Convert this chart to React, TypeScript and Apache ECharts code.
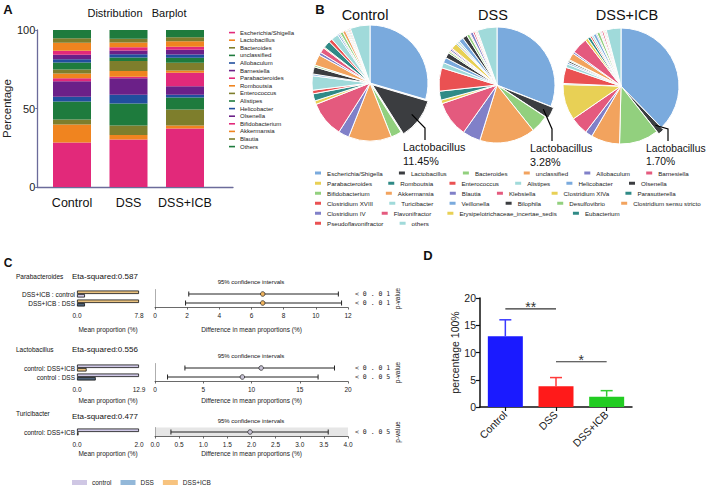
import React, { useEffect, useRef } from 'react';
import * as echarts from 'echarts';

const FONT = 'Liberation Sans, Arial, Helvetica, sans-serif';

// ---------- Panel A: stacked distribution barplot ----------
const barGroups = ['Control', 'DSS', 'DSS+ICB'];
const barTaxa = ['Escherichia/Shigella', 'Lactobacillus', 'Bacteroides', 'unclassified', 'Allobaculum', 'Barnesiella', 'Parabacteroides', 'Romboutsia', 'Enterococcus', 'Alistipes', 'Helicobacter', 'Olsenella', 'Bifidobacterium', 'Akkermansia', 'Blautia', 'Others'];
const barControl = [28.3, 11.5, 3.2, 11.5, 3.0, 9.8, 2.0, 3.0, 2.5, 4.5, 2.0, 3.0, 2.5, 5.0, 3.0, 5.2];
const barDSS = [30.2, 3.0, 6.0, 14.0, 5.5, 10.6, 1.0, 3.6, 6.4, 2.2, 2.0, 2.5, 2.0, 3.0, 2.5, 5.5];
const barICB = [37.2, 1.9, 10.2, 7.7, 1.7, 5.5, 8.5, 1.5, 5.0, 3.2, 2.0, 3.0, 2.0, 3.5, 2.5, 4.6];
const barColors = ['#e2297a', '#f0841f', '#7e7e2c', '#1e7b3d', '#214e9e', '#6b2088'];

// ---------- Panel B: pies ----------
const pieTaxa = ['Escherichia/Shigella', 'Lactobacillus', 'Bacteroides', 'unclassified', 'Allobaculum', 'Barnesiella', 'Parabacteroides', 'Romboutsia', 'Enterococcus', 'Alistipes', 'Helicobacter', 'Olsenella', 'Bifidobacterium', 'Akkermansia', 'Blautia', 'Klebsiella', 'Clostridium XIVa', 'Parasutterella', 'Clostridium XVIII', 'Turicibacter', 'Veillonella', 'Bilophila', 'Desulfovibrio', 'Clostridium sensu stricto', 'Clostridium IV', 'Flavonifractor', 'Erysipelotrichaceae_incertae_sedis', 'Eubacterium', 'Pseudoflavonifractor', 'others'];
const pieControl = [29.55, 11.45, 3, 12, 3, 10, 1, 2, 1, 4, 0.5, 2, 0.5, 3, 0.8, 1.5, 0.3, 2, 1, 2, 0.5, 0.3, 0.8, 0.8, 0.3, 0.3, 0.3, 0.3, 0.3, 5.5];
const pieDSS = [31, 3.28, 5, 15.5, 5, 10, 1, 2.5, 6.5, 1.5, 1.5, 1.5, 0.5, 0.3, 0.5, 0.3, 1.7, 0.3, 0.3, 0.5, 1.3, 1.3, 0.8, 0.3, 0.8, 0.5, 0.3, 0.2, 0.3, 5.5];
const pieICB = [37.7, 1.7, 11, 8, 2, 5, 10, 0.3, 4.5, 1, 0.5, 0.5, 0.3, 2, 0.5, 4.5, 0.8, 0.8, 0.5, 0.5, 0.8, 0.3, 0.8, 0.3, 0.3, 0.5, 0.3, 0.2, 0.3, 4.1];
const pieTitles = ['Control', 'DSS', 'DSS+ICB'];
const lactoLabels = ['11.45%', '3.28%', '1.70%'];
const pieColors = ['#7aaadd', '#3b3d40', '#92d07e', '#f2a35e', '#8080c8', '#e45a7e', '#e8d055', '#2f8a86', '#ea5152', '#a0dada'];
const pieLegendRows = [[0, 6], [6, 12], [12, 18], [18, 24], [24, 28], [28, 30]];

// ---------- Panel C: STAMP plots ----------
const cTaxa = ['Parabacteroides', 'Lactobacillus', 'Turicibacter'];
const cEta = ['0.587', '0.556', '0.477'];
const parabCats = ['DSS+ICB : control', 'DSS+ICB : DSS'];
const parabFirst = [7.8, 7.8];
const parabSecond = [1.0, 1.0];
const parabCI = [[2.1, 11.4, 6.7], [1.9, 11.6, 6.7]];
const parabP = ['< 0 . 0 1', '< 0 . 0 1'];
const lactoCats = ['control: DSS+ICB', 'control : DSS'];
const lactoFirst = [12.9, 12.9];
const lactoSecond = [2.0, 3.9];
const lactoCI = [[3.1, 18.6, 11.0], [1.3, 16.9, 9.05]];
const lactoP = ['< 0 . 0 1', '< 0 . 0 5'];
const turiCats = ['control: DSS+ICB'];
const turiFirst = [2.0];
const turiSecond = [0.05];
const turiCI = [[0.33, 3.59, 1.97]];
const turiP = ['< 0 . 0 5'];
const cLegend = ['control', 'DSS', 'DSS+ICB'];

// ---------- Panel D ----------
const dCats = ['Control', 'DSS', 'DSS+ICB'];
const dMeans = [13, 3.8, 1.9];
const dUpper = [16, 5.4, 3.0];
const sigPairs = [[0, 1, 18], [1, 2, 8.3]];
const sigLabels = ['**', '*'];

const C_CTRL = '#cfc8e6';
const C_DSS = '#4f6379';
const C_ICB = '#e8c17f';

function buildOption() {
  const grids: any[] = [];
  const xAxes: any[] = [];
  const yAxes: any[] = [];
  const series: any[] = [];
  const texts: any[] = [];

  const txt = (text: string, x: number, y: number, size: number, align = 'left', bold = false, color = '#111') => ({
    type: 'text', x, y, silent: true,
    style: { text, fontSize: size, fontFamily: FONT, fontWeight: bold ? 'bold' : 'normal', fill: color, align, verticalAlign: 'middle', textAlign: align, textVerticalAlign: 'middle' },
  });

  // ---- A ----
  const AX = '#6b6b9a';
  grids.push({ left: 34, top: 30, width: 199, height: 157 });
  xAxes.push({
    gridIndex: 0, type: 'value', min: 0, max: 1,
    axisLine: { show: true, lineStyle: { color: AX, width: 1.3 } },
    axisTick: { show: false }, axisLabel: { show: false }, splitLine: { show: false },
  });
  yAxes.push({
    gridIndex: 0, type: 'value', min: 0, max: 100, interval: 50,
    axisLine: { show: true, lineStyle: { color: AX, width: 1.3 } },
    axisTick: { show: true, length: 2, lineStyle: { color: AX } },
    splitLine: { show: false },
    axisLabel: { fontSize: 11, color: '#222', margin: 2 },
    name: 'Percentage', nameLocation: 'middle', nameGap: 20, nameTextStyle: { fontSize: 11.5, color: '#222' },
  });
  grids.push({ left: 43.75, top: 30, width: 169.5, height: 157 });
  xAxes.push({
    gridIndex: 1, type: 'category', data: barGroups,
    axisLine: { show: false }, axisTick: { show: false },
    axisLabel: { fontSize: 12.5, color: '#111', margin: 9, interval: 0 },
  });
  yAxes.push({ gridIndex: 1, type: 'value', min: 0, max: 100, show: false });
  barTaxa.forEach((t, i) => {
    series.push({
      type: 'bar', name: 'A:' + t, stack: 'a', xAxisIndex: 1, yAxisIndex: 1, barWidth: 38, silent: true,
      itemStyle: { color: barColors[i % 6] },
      data: [barControl[i], barDSS[i], barICB[i]],
    });
  });
  texts.push(txt('A', 8, 9, 13, 'center', true));
  texts.push(txt('Distribution   Barplot', 137, 13, 11, 'center'));

  // ---- B ----
  const pieCenters = [[370, 83], [497, 85], [621, 86]];
  const pieR = 58;
  const pieLabelPos = [[403, 141], [530, 142], [646, 142]];
  const lfs = [10.8, 10.8, 10.3];
  [pieControl, pieDSS, pieICB].forEach((vals, k) => {
    const total = vals.reduce((a, b) => a + b, 0);
    const mid = ((vals[0] + vals[1] / 2) / total) * Math.PI * 2;
    const [cx, cy] = pieCenters[k];
    const sx = cx + 0.9 * pieR * Math.sin(mid);
    const sy = cy - 0.9 * pieR * Math.cos(mid);
    const [lx, ly] = pieLabelPos[k];
    series.push({
      type: 'pie', name: 'pie-' + pieTitles[k], center: pieCenters[k], radius: pieR,
      startAngle: 90, clockwise: true, selectedMode: 'multiple', selectedOffset: 3,
      avoidLabelOverlap: false, silent: true,
      itemStyle: { borderColor: '#fff', borderWidth: 1 },
      label: { show: false }, labelLine: { show: false },
      emphasis: { disabled: true },
      data: pieTaxa.map((n, i) => {
        const item: any = { name: n, value: vals[i], itemStyle: { color: pieColors[i % 10] } };
        if (i === 1) item.selected = true;
        return item;
      }),
    });
    texts.push(txt(pieTitles[k], [365, 493, 627][k], 15, 14.5, 'center'));
    texts.push({
      type: 'polyline', silent: true, z: 100,
      shape: { points: [[sx, sy], [lx + 22, ly - 13], [lx + 22, ly - 1]] },
      style: { stroke: '#000', lineWidth: 1.2, fill: 'none' },
    });
    texts.push(txt('Lactobacillus', lx, ly + 6, lfs[k]));
    texts.push(txt(lactoLabels[k], lx, ly + 19.5, lfs[k]));
  });
  texts.push(txt('B', 320, 9, 13, 'center', true));

  // ---- C ----
  const sections = [
    { cats: parabCats, first: parabFirst, second: parabSecond, firstColors: [C_ICB, C_ICB], secondColors: [C_CTRL, C_DSS], leftMax: 7.8, ci: parabCI, ciMax: 12, ciInterval: 2, dec: 0, pvals: parabP, dot: '#f0b35c', bands: ['rgba(0,0,0,0)', '#e6e6e6'], top: 289.5, nameGap: 18, titleY: 276, etaY: 276, ciTitleY: 282 },
    { cats: lactoCats, first: lactoFirst, second: lactoSecond, firstColors: [C_CTRL, C_CTRL], secondColors: [C_ICB, C_DSS], leftMax: 12.9, ci: lactoCI, ciMax: 20, ciInterval: 5, dec: 0, pvals: lactoP, dot: '#c8c3d6', bands: ['rgba(0,0,0,0)', '#e6e6e6'], top: 363.5, nameGap: 15, titleY: 349, etaY: 349, ciTitleY: 356 },
    { cats: turiCats, first: turiFirst, second: turiSecond, firstColors: [C_CTRL], secondColors: [C_ICB], leftMax: 2.0, ci: turiCI, ciMax: 4, ciInterval: 0.5, dec: 1, pvals: turiP, dot: '#c8c3d6', bands: ['#e6e6e6'], top: 427.5, nameGap: 13, titleY: 413, etaY: 416, ciTitleY: 421 },
  ];
  const rowH = 9;
  sections.forEach((s, k) => {
    const n = s.cats.length;
    const gl = grids.length;
    grids.push({ left: 77, top: s.top, width: 62, height: rowH * n });
    const gr = grids.length;
    grids.push({ left: 155, top: s.top, width: 193, height: rowH * n });
    const xl = xAxes.length;
    xAxes.push({
      gridIndex: gl, type: 'value', min: 0, max: s.leftMax,
      axisLine: { show: false }, axisTick: { show: false }, splitLine: { show: false },
      axisLabel: { customValues: [0, s.leftMax], formatter: (v: number) => v.toFixed(1), fontSize: 6.5, color: '#222', margin: 4 },
      name: 'Mean proportion (%)', nameLocation: 'middle', nameGap: s.nameGap, nameTextStyle: { fontSize: 6.5, color: '#222' },
    });
    const xr = xAxes.length;
    xAxes.push({
      gridIndex: gr, type: 'value', min: 0, max: s.ciMax, interval: s.ciInterval,
      axisLine: { show: true, lineStyle: { color: '#444', width: 0.8 } },
      axisTick: { show: true, length: 2, lineStyle: { color: '#444', width: 0.8 } },
      splitLine: { show: false },
      axisLabel: { fontSize: 6.5, color: '#222', margin: 4, formatter: (v: number) => v.toFixed(s.dec) },
      name: 'Difference in mean proportions (%)', nameLocation: 'middle', nameGap: s.nameGap, nameTextStyle: { fontSize: 6.5, color: '#222' },
    });
    const yl = yAxes.length;
    yAxes.push({
      gridIndex: gl, type: 'category', data: s.cats, inverse: true,
      axisLine: { show: false }, axisTick: { show: false },
      axisLabel: { fontSize: 6.5, color: '#111', margin: 2, interval: 0 },
    });
    const yr = yAxes.length;
    yAxes.push({
      gridIndex: gr, type: 'category', data: s.cats, inverse: true,
      axisLine: { show: true, lineStyle: { color: '#999', width: 0.8 } },
      axisTick: { show: false }, axisLabel: { show: false },
      splitArea: { show: true, areaStyle: { color: s.bands } },
    });
    yAxes.push({
      gridIndex: gr, type: 'category', data: s.pvals, inverse: true, position: 'right',
      axisLine: { show: false }, axisTick: { show: false },
      axisLabel: { fontFamily: 'DejaVu Sans Mono', fontSize: 6.5, color: '#222', margin: 7, interval: 0 },
      name: 'p-value', nameLocation: 'middle', nameRotate: 90, nameGap: 42, nameTextStyle: { fontSize: 6.5, color: '#222' },
    });
    series.push({
      type: 'bar', name: 'c' + k + '-first', xAxisIndex: xl, yAxisIndex: yl, barWidth: 3.5, barGap: '0%', silent: true,
      itemStyle: { borderColor: '#111', borderWidth: 0.8 },
      data: s.first.map((v, i) => ({ value: v, itemStyle: { color: s.firstColors[i] } })),
    });
    series.push({
      type: 'bar', name: 'c' + k + '-second', xAxisIndex: xl, yAxisIndex: yl, barWidth: 3.5, barGap: '0%', silent: true,
      itemStyle: { borderColor: '#111', borderWidth: 0.8 },
      data: s.second.map((v, i) => ({ value: v, itemStyle: { color: s.secondColors[i] } })),
    });
    series.push({
      type: 'custom', name: 'c' + k + '-ci', xAxisIndex: xr, yAxisIndex: yr, silent: true,
      data: s.ci.map((c, i) => [c[0], c[1], c[2], i]),
      encode: { x: [0, 1, 2], y: 3 },
      renderItem: (params: any, api: any) => {
        const row = api.value(3);
        const p0 = api.coord([api.value(0), row]);
        const p1 = api.coord([api.value(1), row]);
        const pm = api.coord([api.value(2), row]);
        const st = { stroke: '#222', lineWidth: 1 };
        return {
          type: 'group', children: [
            { type: 'line', shape: { x1: p0[0], y1: p0[1], x2: p1[0], y2: p1[1] }, style: st },
            { type: 'line', shape: { x1: p0[0], y1: p0[1] - 2.5, x2: p0[0], y2: p0[1] + 2.5 }, style: st },
            { type: 'line', shape: { x1: p1[0], y1: p1[1] - 2.5, x2: p1[0], y2: p1[1] + 2.5 }, style: st },
            { type: 'circle', shape: { cx: pm[0], cy: pm[1], r: 2.3 }, style: { fill: s.dot, stroke: '#333', lineWidth: 0.8 } },
          ],
        };
      },
    });
    if (k === 2) {
      cLegend.forEach((name, i) => {
        series.push({ type: 'scatter', name, xAxisIndex: xl, yAxisIndex: yl, data: [], itemStyle: { color: ['#c3b9dd', '#78a6cf', '#f5b45f'][i] } });
      });
    }
    texts.push(txt(cTaxa[k], 16, s.titleY, 6.5));
    texts.push(txt('Eta-squared:' + cEta[k], 72, s.etaY, 8));
    texts.push(txt('95% confidence intervals', 251, s.ciTitleY, 6, 'center'));
  });
  texts.push(txt('C', 8, 263, 12, 'center', true));

  // ---- D ----
  const gd = grids.length;
  grids.push({ left: 480, top: 298, width: 152, height: 109 });
  const xd = xAxes.length;
  xAxes.push({
    gridIndex: gd, type: 'category', data: dCats,
    axisLine: { show: true, lineStyle: { color: '#111', width: 1.5 } },
    axisTick: { show: true, alignWithLabel: true, length: 4, lineStyle: { color: '#111', width: 1.2 } },
    axisLabel: { rotate: 45, fontSize: 10.5, color: '#222', margin: 6, interval: 0 },
  });
  const yd = yAxes.length;
  yAxes.push({
    gridIndex: gd, type: 'value', min: 0, max: 20, interval: 5,
    axisLine: { show: true, lineStyle: { color: '#111', width: 1.5 } },
    axisTick: { show: true, length: 4, lineStyle: { color: '#111', width: 1.2 } },
    splitLine: { show: false },
    axisLabel: { fontSize: 10.5, color: '#222', margin: 4 },
    name: 'percentage 100%', nameLocation: 'middle', nameGap: 19, nameTextStyle: { fontSize: 10.5, color: '#222' },
  });
  const dColors = ['#1a1aff', '#ff1a1a', '#22cc22'];
  const dErr = ['#3a3aff', '#ff3a3a', '#33cc33'];
  series.push({
    type: 'bar', name: 'D-bars', xAxisIndex: xd, yAxisIndex: yd, barWidth: 35, silent: true,
    data: dMeans.map((v, i) => ({ value: v, itemStyle: { color: dColors[i] } })),
  });
  series.push({
    type: 'custom', name: 'D-err', xAxisIndex: xd, yAxisIndex: yd, silent: true,
    data: dMeans.map((m, i) => [i, m, dUpper[i]]),
    encode: { x: 0, y: [1, 2] },
    renderItem: (params: any, api: any) => {
      const x = api.value(0);
      const lo = api.coord([x, api.value(1)]);
      const hi = api.coord([x, api.value(2)]);
      const c = dErr[params.dataIndex];
      return {
        type: 'group', children: [
          { type: 'line', shape: { x1: lo[0], y1: lo[1], x2: hi[0], y2: hi[1] }, style: { stroke: c, lineWidth: 1.5 } },
          { type: 'line', shape: { x1: hi[0] - 6, y1: hi[1], x2: hi[0] + 6, y2: hi[1] }, style: { stroke: c, lineWidth: 1.5 } },
        ],
      };
    },
  });
  series.push({
    type: 'custom', name: 'D-sig', xAxisIndex: xd, yAxisIndex: yd, silent: true,
    data: sigPairs,
    encode: { x: [0, 1], y: 2 },
    renderItem: (params: any, api: any) => {
      const p0 = api.coord([api.value(0), api.value(2)]);
      const p1 = api.coord([api.value(1), api.value(2)]);
      return {
        type: 'group', children: [
          { type: 'line', shape: { x1: p0[0], y1: p0[1], x2: p1[0], y2: p1[1] }, style: { stroke: '#333', lineWidth: 1.2 } },
          { type: 'text', x: (p0[0] + p1[0]) / 2, y: p0[1] - 2, style: { text: sigLabels[params.dataIndex], fontSize: 14, fontFamily: FONT, fill: '#333', align: 'center', verticalAlign: 'middle' } },
        ],
      };
    },
  });
  texts.push(txt('D', 428, 255, 13, 'center', true));

  // ---- legends ----
  const legends: any[] = [];
  legends.push({
    left: 229, top: 28.8, orient: 'vertical', itemWidth: 6, itemHeight: 1.6, itemGap: 0, icon: 'rect', padding: 0,
    selectedMode: false, textStyle: { fontSize: 6, lineHeight: 7.6, color: '#222' },
    data: barTaxa.map((t) => 'A:' + t), formatter: (n: string) => n.slice(2),
  });
  const rowCenters = [173, 183.3, 193.3, 203.3, 213.3, 223.3];
  pieLegendRows.forEach(([a, b], r) => {
    legends.push({
      left: 313, top: rowCenters[r] - 4, width: 600, orient: 'horizontal', itemWidth: 8, itemHeight: 5, itemGap: 14.2, icon: 'rect', padding: 0,
      selectedMode: false, textStyle: { fontSize: 6.2, lineHeight: 8, color: '#222' },
      data: pieTaxa.slice(a, b),
    });
  });
  legends.push({
    left: 72, top: 479, orient: 'horizontal', itemWidth: 15, itemHeight: 5, itemGap: 9, icon: 'rect', padding: 0,
    selectedMode: false, textStyle: { fontSize: 6.5, lineHeight: 6, color: '#222' },
    data: cLegend,
  });

  return {
    animation: false,
    backgroundColor: '#ffffff',
    textStyle: { fontFamily: FONT },
    grid: grids,
    xAxis: xAxes,
    yAxis: yAxes,
    legend: legends,
    series,
    graphic: { elements: texts },
  };
}

export default function App() {
  const ref = useRef<HTMLDivElement>(null);
  useEffect(() => {
    if (!ref.current) return;
    const chart = echarts.init(ref.current, null, { renderer: 'svg' });
    chart.setOption(buildOption() as any);
    return () => chart.dispose();
  }, []);
  return <div ref={ref} style={{ position: 'absolute', left: 0, top: 0, width: 707, height: 487, background: '#fff' }} />;
}
